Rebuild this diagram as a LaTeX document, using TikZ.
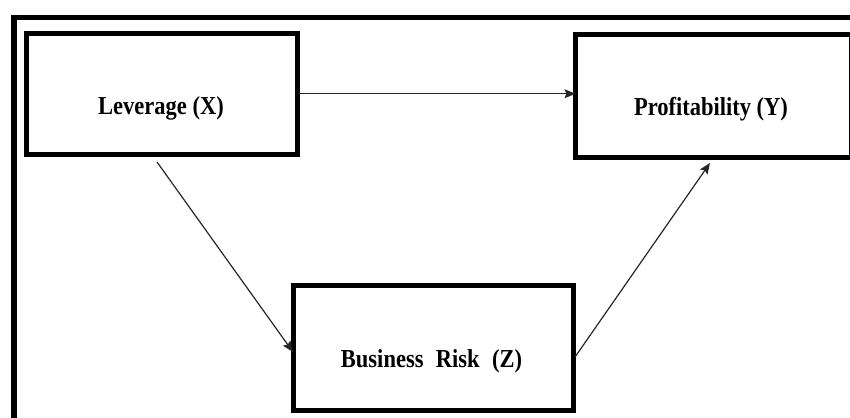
\documentclass[tikz,border=0pt]{standalone}
\usepackage{fontspec}
\setmainfont{Liberation Serif}
\usetikzlibrary{arrows.meta}
\begin{document}
\begin{tikzpicture}[x=1pt,y=-1pt,
  box/.style={draw=black,line width=5pt,rectangle,outer sep=0pt,inner sep=0pt},
  lbl/.style={anchor=base,inner sep=0pt,font=\fontsize{22.5}{26}\selectfont\bfseries},
  arr/.style={line width=1.2pt,draw=black!85,-{Stealth[length=11pt,width=9pt,inset=2pt]}},
  frame/.style={line width=5.5pt,draw=black}]
\useasboundingbox (0,0) rectangle (850,417);
\begin{scope}
\clip (0,0) rectangle (850,417);
\draw[frame] (13.8,440) -- (13.8,17.5) -- (870,17.5);
\node[box,minimum width=271.5pt,minimum height=120.5pt] (lev) at (161.75,93.75) {};
\node[box,minimum width=275.5pt,minimum height=122.5pt] (prof) at (713.25,96.25) {};
\node[box,minimum width=280pt,minimum height=125pt] (bus) at (433.5,348) {};
\end{scope}
\node[lbl] (tlev) at (161,114) {\scalebox{1}[1.15]{Leverage (X)}};
\node[lbl] (tprof) at (711,115) {\scalebox{1}[1.15]{Profitability (Y)}};
\node[lbl] (tbus) at (431.5,367) {\scalebox{1}[1.15]{Business\hspace{0.3em} Risk\hspace{0.3em} (Z)}};
\coordinate (s1) at (157,162);
\coordinate (e1) at (293,352);
\coordinate (s2) at (575,357);
\coordinate (e2) at (710,163);
\draw[arr] (lev.east) -- (prof.west |- lev.east);
\draw[arr] (s1) -- (e1);
\draw[arr] (s2) -- (e2);
\end{tikzpicture}
\end{document}
